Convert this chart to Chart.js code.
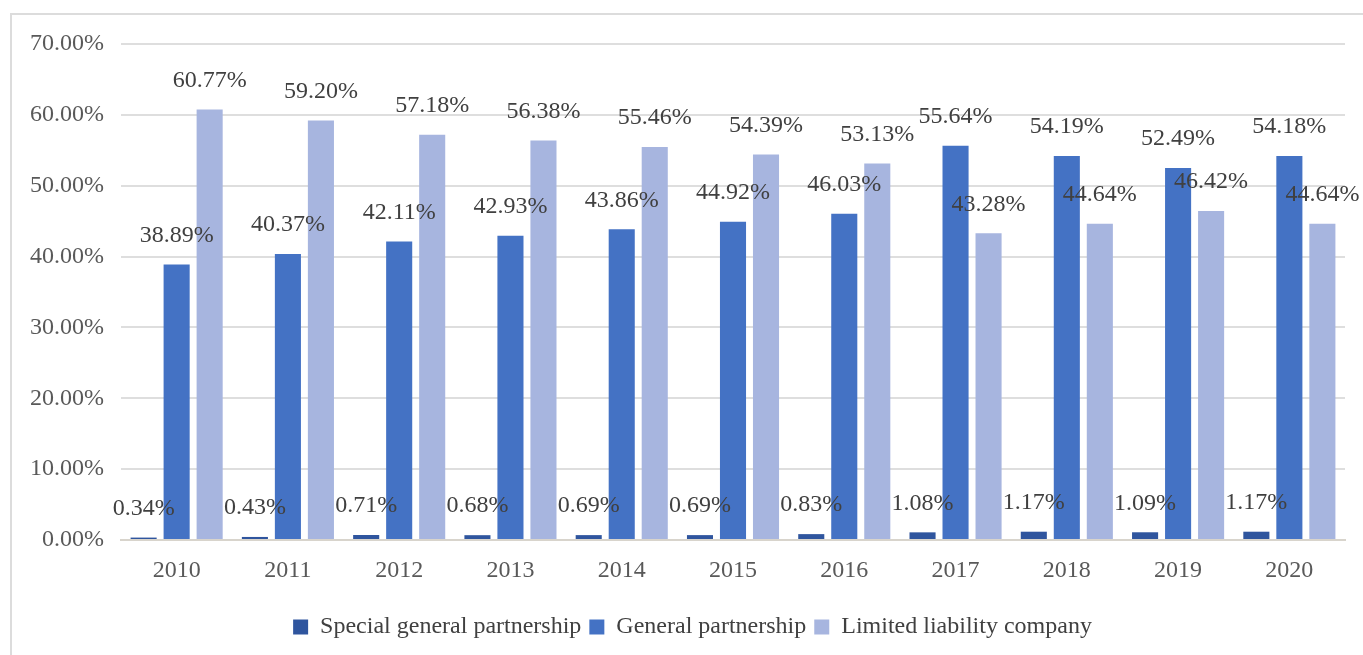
<!DOCTYPE html>
<html>
<head>
<meta charset="utf-8">
<script src="https://cdn.jsdelivr.net/npm/chart.js@4/dist/chart.umd.min.js"></script>
<style>
  html, body { margin: 0; padding: 0; background: #fff; }
  #wrap { position: relative; width: 1363px; height: 655px; }
</style>
</head>
<body>
<div id="wrap"><canvas id="c" width="1363" height="655"></canvas></div>
<script>
const years = ['2010','2011','2012','2013','2014','2015','2016','2017','2018','2019','2020'];
const specialGeneral = [0.34, 0.43, 0.71, 0.68, 0.69, 0.69, 0.83, 1.08, 1.17, 1.09, 1.17];
const generalPartnership = [38.89, 40.37, 42.11, 42.93, 43.86, 44.92, 46.03, 55.64, 54.19, 52.49, 54.18];
const limitedLiability = [60.77, 59.20, 57.18, 56.38, 55.46, 54.39, 53.13, 43.28, 44.64, 46.42, 44.64];
const seriesNames = ['Special general partnership', 'General partnership', 'Limited liability company'];

const FONT = '"Liberation Serif", "DejaVu Serif", serif';

// Frame around the figure (top and left edges)
const framePlugin = {
  id: 'frame',
  beforeDraw(chart) {
    const ctx = chart.ctx;
    ctx.save();
    ctx.strokeStyle = '#dcdcdc';
    ctx.lineWidth = 2;
    ctx.beginPath();
    ctx.moveTo(11, 655);
    ctx.lineTo(11, 14);
    ctx.lineTo(1363, 14);
    ctx.stroke();
    ctx.restore();
  }
};

// Centre the legend under the whole figure rather than under the plot
const legendShift = {
  id: 'legendShift',
  afterLayout(chart) {
    if (chart.legend) {
      chart.legend.left += 20;
      chart.legend.right += 20;
    }
  }
};

// Value labels above each bar
const valueLabels = {
  id: 'valueLabels',
  afterDatasetsDraw(chart) {
    const ctx = chart.ctx;
    ctx.save();
    ctx.font = '24px ' + FONT;
    ctx.fillStyle = '#404040';
    ctx.textAlign = 'center';
    ctx.textBaseline = 'middle';
    chart.data.datasets.forEach((ds, i) => {
      const meta = chart.getDatasetMeta(i);
      meta.data.forEach((bar, j) => {
        ctx.fillText(ds.data[j].toFixed(2) + '%', bar.x, bar.y - 29);
      });
    });
    ctx.restore();
  }
};

new Chart(document.getElementById('c'), {
  type: 'bar',
  data: {
    labels: years,
    datasets: [
      { label: seriesNames[0], data: specialGeneral, backgroundColor: '#2F559E' },
      { label: seriesNames[1], data: generalPartnership, backgroundColor: '#4472C4' },
      { label: seriesNames[2], data: limitedLiability, backgroundColor: '#A7B5DF' }
    ]
  },
  options: {
    responsive: false,
    animation: false,
    devicePixelRatio: 1,
    datasets: { bar: { categoryPercentage: 0.89, barPercentage: 0.79 } },
    layout: { padding: { top: 44, right: 18, left: 0, bottom: 6 } },
    plugins: {
      tooltip: { enabled: false },
      legend: {
        position: 'bottom',
        labels: {
          font: { family: FONT, size: 24 },
          color: '#404040',
          boxWidth: 15,
          boxHeight: 15,
          padding: 8
        }
      }
    },
    scales: {
      x: {
        grid: { display: false, drawTicks: false },
        border: { display: true, color: '#d8d4cc', width: 2 },
        ticks: { font: { family: FONT, size: 24 }, color: '#595959', padding: 16 },
        afterFit(s) { s.height = 67; }
      },
      y: {
        min: 0,
        max: 70,
        grid: { color: '#dedede', lineWidth: 2, drawTicks: false },
        border: { display: false },
        ticks: {
          stepSize: 10,
          font: { family: FONT, size: 24 },
          color: '#595959',
          padding: 17,
          callback: v => v.toFixed(2) + '%'
        },
        afterFit(s) { s.width = 121; }
      }
    }
  },
  plugins: [framePlugin, legendShift, valueLabels]
});
</script>
</body>
</html>
